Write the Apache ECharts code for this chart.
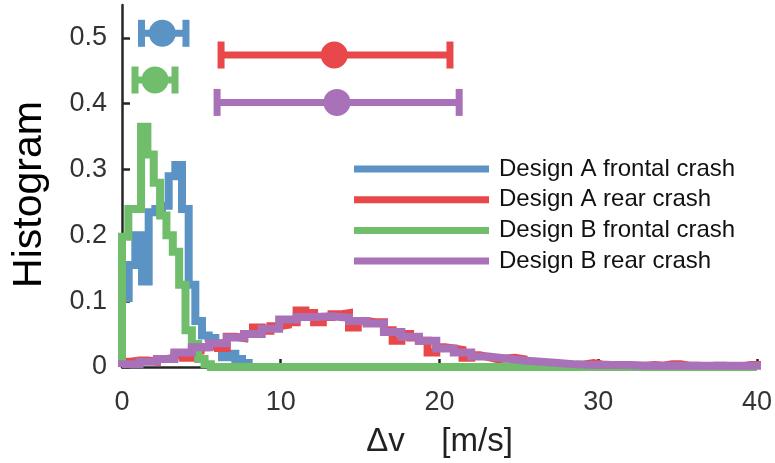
<!DOCTYPE html>
<html>
<head>
<meta charset="utf-8">
<script src="https://cdn.jsdelivr.net/npm/echarts@6/dist/echarts.min.js"></script>
<style>
  html, body { margin: 0; padding: 0; background: #fff; }
  #main { width: 775px; height: 463px; }
</style>
</head>
<body>
<div id="main"></div>
<script>
// histogram series (pdf per bin, bins start at 0)
const seriesNames = ['Design A frontal crash', 'Design A rear crash', 'Design B frontal crash', 'Design B rear crash'];
const colors = ['#5a93c4', '#e8484a', '#70bd6b', '#a971b7'];
const binWidths = [0.42, 0.55, 0.4, 1.1];

const frontalA = [0.105, 0.155, 0.200, 0.130, 0.235, 0.240, 0.245, 0.290, 0.307, 0.240,
  0.125, 0.070, 0.048, 0.044, 0.036, 0.015, 0.020, 0.012, 0.006];
const rearA = [0.008, 0.010, 0.010, 0.008, 0.012, 0.014, 0.018, 0.014, 0.025, 0.030,
  0.033, 0.029, 0.046, 0.044, 0.050, 0.060, 0.055, 0.062, 0.064, 0.068,
  0.086, 0.082, 0.068, 0.076, 0.080, 0.082, 0.060, 0.070, 0.068, 0.068,
  0.056, 0.040, 0.050, 0.045, 0.040, 0.022, 0.030, 0.028, 0.026, 0.014,
  0.018, 0.015, 0.012, 0.013, 0.014, 0.012, 0.008, 0.006, 0.005, 0.005,
  0.004, 0.003, 0.004, 0.006, 0.004, 0.003, 0.002, 0.003, 0.002, 0.002,
  0.003, 0.002, 0.004, 0.004, 0.002, 0.002, 0.001, 0.002, 0.002, 0.001,
  0.001, 0.003, 0.003];
const frontalB = [0.198, 0.240, 0.240, 0.365, 0.323, 0.280, 0.230, 0.200, 0.175, 0.125,
  0.056, 0.035, 0.012, 0.004];
const rearB = [0.004, 0.008, 0.012, 0.022, 0.030, 0.036, 0.045, 0.050, 0.058, 0.072,
  0.076, 0.077, 0.075, 0.070, 0.066, 0.053, 0.046, 0.040, 0.028, 0.022,
  0.016, 0.013, 0.010, 0.008, 0.006, 0.004, 0.003, 0.003, 0.003, 0.002,
  0.002, 0.002, 0.002, 0.002, 0.002, 0.002, 0.002];

// error bars: mean and range per series, drawn at fixed heights
const errMid = [2.54, 13.37, 2.08, 13.54];
const errLow = [1.23, 6.24, 0.82, 5.99];
const errHigh = [4.03, 20.66, 3.34, 21.24];
const errY = [0.507, 0.474, 0.436, 0.402];

const xMax = 40;
const yMax = 0.55;

const histValues = [frontalA, rearA, frontalB, rearB];

function stairs(vals, w) {
  let pts = [[0, 0]];
  vals.forEach((v, i) => pts.push([i * w, v]));
  let end = vals.length * w;
  pts.push([end, vals[vals.length - 1]]);
  pts.push([end, 0]);
  if (end < xMax) pts.push([xMax, 0]);
  return pts;
}

let chart = echarts.init(document.getElementById('main'));

let series = histValues.map((vals, k) => ({
  name: seriesNames[k],
  type: 'line',
  step: 'end',
  data: stairs(vals, binWidths[k]),
  showSymbol: false,
  symbol: 'none',
  color: colors[k],
  lineStyle: { width: 8, color: colors[k], cap: 'butt', join: 'miter' },
  animation: false,
  z: 2 + k
}));

series.push({
  type: 'custom',
  z: 10,
  animation: false,
  data: errMid.map((m, k) => [errLow[k], errHigh[k], errY[k], m, k]),
  renderItem: function (params, api) {
    let lo = api.coord([api.value(0), api.value(2)]);
    let hi = api.coord([api.value(1), api.value(2)]);
    let mid = api.coord([api.value(3), api.value(2)]);
    let c = colors[api.value(4)];
    let capH = 27, capW = 7;
    return {
      type: 'group',
      children: [
        { type: 'line', shape: { x1: lo[0], y1: lo[1], x2: hi[0], y2: hi[1] },
          style: { stroke: c, lineWidth: 7 } },
        { type: 'rect', shape: { x: lo[0] - capW / 2, y: lo[1] - capH / 2, width: capW, height: capH },
          style: { fill: c } },
        { type: 'rect', shape: { x: hi[0] - capW / 2, y: hi[1] - capH / 2, width: capW, height: capH },
          style: { fill: c } },
        { type: 'circle', shape: { cx: mid[0], cy: mid[1], r: 13.5 },
          style: { fill: c } }
      ]
    };
  }
});

let option = {
  backgroundColor: '#fff',
  animation: false,
  grid: { left: 122, right: 18, top: 5, bottom: 95, containLabel: false },
  legend: {
    data: seriesNames,
    orient: 'vertical',
    left: 354,
    top: 157,
    padding: 0,
    icon: 'rect',
    itemWidth: 135,
    itemHeight: 7,
    itemGap: 6.7,
    textStyle: {
      fontFamily: 'Liberation Sans',
      fontSize: 24,
      color: '#111',
      lineHeight: 18,
      padding: [6, 0, 0, 5]
    }
  },
  xAxis: {
    type: 'value',
    min: 0,
    max: xMax,
    interval: 10,
    name: 'Δv    [m/s]',
    nameLocation: 'middle',
    nameGap: 58,
    nameTextStyle: { fontFamily: 'Liberation Sans', fontSize: 33, color: '#222' },
    axisLine: { show: true, lineStyle: { color: '#262626', width: 2.5 } },
    axisTick: { show: true, inside: true, length: 8, lineStyle: { color: '#262626', width: 2.5 } },
    axisLabel: { fontFamily: 'Liberation Sans', fontSize: 27, color: '#333', margin: 22 },
    splitLine: { show: false }
  },
  yAxis: {
    type: 'value',
    min: 0,
    max: yMax,
    interval: 0.1,
    name: 'Histogram',
    nameLocation: 'middle',
    nameGap: 72,
    nameRotate: 90,
    nameTextStyle: { fontFamily: 'Liberation Sans', fontSize: 41, color: '#000', padding: [0, 17, 0, 0] },
    axisLine: { show: true, lineStyle: { color: '#262626', width: 2.5 } },
    axisTick: { show: true, inside: true, length: 8, lineStyle: { color: '#262626', width: 2.5 } },
    axisLabel: { fontFamily: 'Liberation Sans', fontSize: 27, color: '#333', margin: 15,
      padding: [8, 0, 0, 0], showMaxLabel: false },
    splitLine: { show: false }
  },
  series: series
};

chart.setOption(option);
</script>
</body>
</html>
